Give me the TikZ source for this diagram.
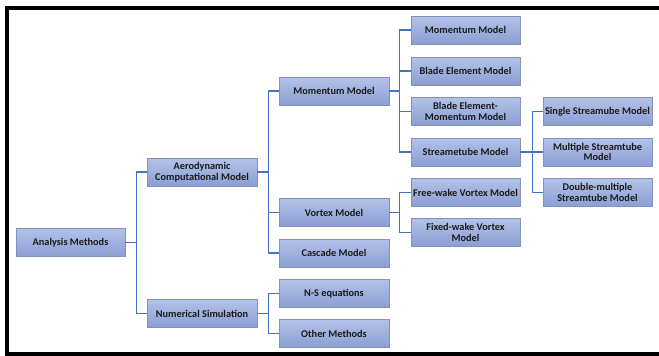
\documentclass[tikz,border=0pt]{standalone}
\usepackage{fontspec}
\setmainfont{Carlito}
\usetikzlibrary{calc}
\definecolor{link}{HTML}{4472C4}
\definecolor{boxline}{HTML}{8491B5}
\definecolor{boxtop}{HTML}{B3C2E8}
\definecolor{boxbot}{HTML}{8A9ED3}
\definecolor{txt}{HTML}{1A1A1A}
\tikzset{
  mbox/.style={draw=boxline, line width=0.9pt, top color=boxtop, bottom color=boxbot,
    minimum width=109pt, minimum height=28pt, inner sep=1pt, align=center,
    text=txt, font=\bfseries\fontsize{10.3}{10.6}\selectfont},
  conn/.style={draw=link, line width=1.7pt},
  frame/.style={line width=4pt, black}
}
\begin{document}
\begin{tikzpicture}[x=1pt,y=-1pt]
\useasboundingbox (0,0) rectangle (659,356);
\draw[frame] (662,8) -- (7,8) -- (7,354) -- (662,354);

\node[mbox] (am) at (70.5,242.5) {Analysis Methods};
\node[mbox, minimum width=110pt] (acm) at (202,172) {Aerodynamic\\Computational Model};
\node[mbox, minimum width=110pt] (ns) at (202,313.5) {Numerical Simulation};

\node[mbox, minimum width=110pt] (mm) at (334,91) {Momentum Model};
\node[mbox, minimum width=110pt] (vm) at (334,212.5) {Vortex Model};
\node[mbox, minimum width=110pt] (cm) at (334,253) {Cascade Model};
\node[mbox, minimum width=110pt] (nse) at (334,293.5) {N-S equations};
\node[mbox, minimum width=110pt] (om) at (334,333.5) {Other Methods};

\node[mbox] (mm2) at (465.5,30) {Momentum Model};
\node[mbox] (bem) at (465.5,71) {Blade Element Model};
\node[mbox] (bemm) at (465.5,111.5) {Blade Element-\\Momentum Model};
\node[mbox] (sm) at (465.5,152) {Streametube Model};
\node[mbox] (fw) at (465.5,192.5) {Free-wake Vortex Model};
\node[mbox] (fx) at (465.5,232.5) {Fixed-wake Vortex\\Model};

\node[mbox] (ssm) at (597.5,111.5) {Single Streamube Model};
\node[mbox] (msm) at (597.5,152) {Multiple Streamtube\\Model};
\node[mbox] (dms) at (597.5,192.5) {Double-multiple\\Streamtube Model};

\foreach \c in {acm,ns} \draw[conn] (am.east) -- ++(11,0) |- (\c.west);
\foreach \c in {mm,vm,cm} \draw[conn] (acm.east) -- ++(11,0) |- (\c.west);
\foreach \c in {nse,om} \draw[conn] (ns.east) -- ++(11,0) |- (\c.west);
\foreach \c in {mm2,bem,bemm,sm} \draw[conn] (mm.east) -- ++(10,0) |- (\c.west);
\foreach \c in {fw,fx} \draw[conn] (vm.east) -- ++(10,0) |- (\c.west);
\foreach \c in {ssm,msm,dms} \draw[conn] (sm.east) -- ++(12,0) |- (\c.west);
\end{tikzpicture}
\end{document}
